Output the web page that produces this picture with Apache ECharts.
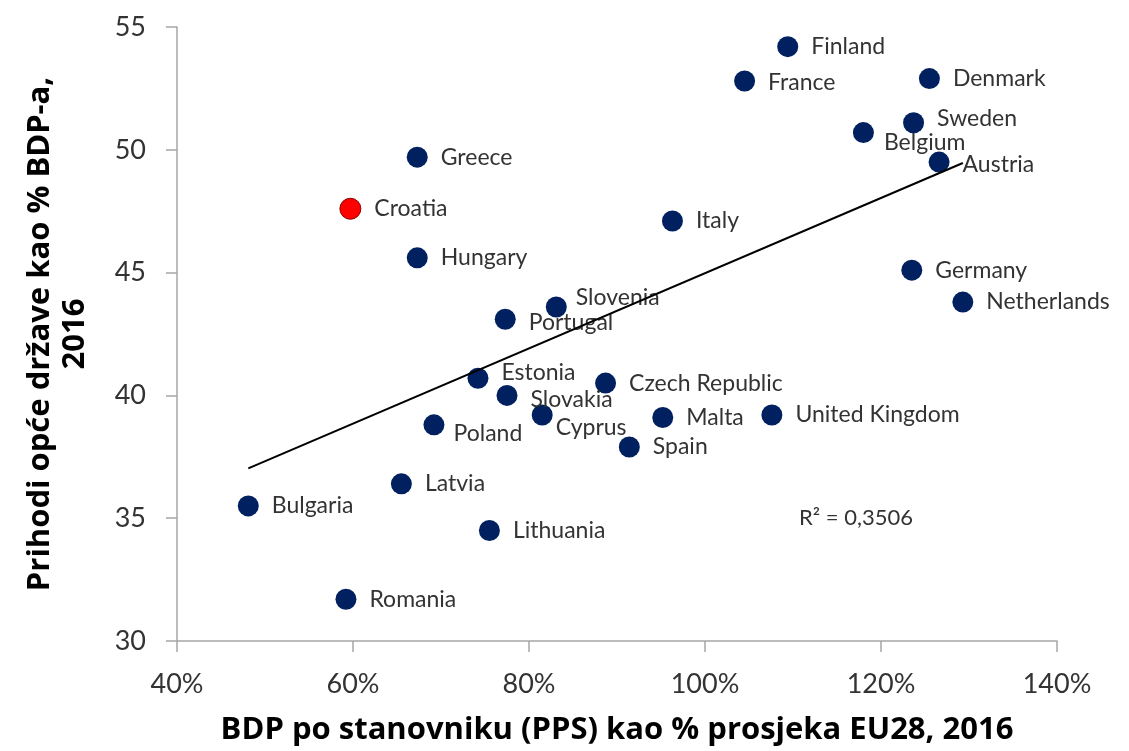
<!DOCTYPE html>
<html>
<head>
<meta charset="utf-8">
<title>Prihodi opće države i BDP po stanovniku</title>
<script src="https://cdn.jsdelivr.net/npm/echarts@6/dist/echarts.min.js"></script>
<style>
  html, body { margin: 0; padding: 0; background: #fff; }
  #chart { width: 1129px; height: 751px; }
</style>
</head>
<body>
<div id="chart"></div>
<script>
// podaci s grafikona
const countries = ['Finland', 'France', 'Denmark', 'Sweden', 'Belgium', 'Austria', 'Greece', 'Croatia',
  'Italy', 'Hungary', 'Germany', 'Netherlands', 'Slovenia', 'Portugal', 'Estonia', 'Czech Republic',
  'Slovakia', 'Cyprus', 'Malta', 'United Kingdom', 'Poland', 'Spain', 'Latvia', 'Bulgaria', 'Lithuania', 'Romania']
const gdpPerCapita = [109.4, 104.5, 125.5, 123.7, 118.0, 126.6, 67.3, 59.7,
  96.3, 67.3, 123.5, 129.3, 83.1, 77.3, 74.2, 88.7,
  77.5, 81.5, 95.2, 107.6, 69.2, 91.4, 65.5, 48.1, 75.5, 59.2]
const revenue = [54.2, 52.8, 52.9, 51.1, 50.7, 49.5, 49.7, 47.6,
  47.1, 45.6, 45.1, 43.8, 43.6, 43.1, 40.7, 40.5,
  40.0, 39.2, 39.1, 39.2, 38.8, 37.9, 36.4, 35.5, 34.5, 31.7]
const xTicks = [40, 60, 80, 100, 120, 140]
const yTicks = [30, 35, 40, 45, 50, 55]
const rSquaredText = 'R² = 0,3506'

const highlight = 'Croatia'
const navy = '#002060'
const textColor = '#333333'
const labelFont = 'Lato, "Open Sans", sans-serif'
const titleFont = '"Open Sans", "Noto Sans", sans-serif'

// pomaci oznaka koje nisu tocno desno od tocke
const labelOffsets = {
  'Sweden': [0, -4],
  'Belgium': [-3, 10],
  'Austria': [0, 2],
  'Slovenia': [-4, -9],
  'Portugal': [0, 3],
  'Estonia': [0, -6],
  'Slovakia': [0, 4],
  'Cyprus': [-10, 13],
  'Poland': [-4, 9],
  'France': [0, 2]
}

// linearni trend (najmanji kvadrati)
const n = gdpPerCapita.length
const meanX = gdpPerCapita.reduce((a, b) => a + b, 0) / n
const meanY = revenue.reduce((a, b) => a + b, 0) / n
let sxy = 0, sxx = 0
for (let i = 0; i < n; i++) {
  sxy += (gdpPerCapita[i] - meanX) * (revenue[i] - meanY)
  sxx += (gdpPerCapita[i] - meanX) ** 2
}
const slope = sxy / sxx
const intercept = meanY - slope * meanX
const xMin = Math.min(...gdpPerCapita)
const xMax = Math.max(...gdpPerCapita)
const trendData = [[xMin, intercept + slope * xMin], [xMax, intercept + slope * xMax]]

const points = countries.map((name, i) => {
  const item = { name: name, value: [gdpPerCapita[i], revenue[i]] }
  if (name === highlight) {
    item.itemStyle = { color: '#ff0000', borderColor: '#8b0000', borderWidth: 1 }
  }
  return item
})

const chart = echarts.init(document.getElementById('chart'), null, { renderer: 'canvas' })

const axisLineStyle = { color: '#a6a6a6', width: 1.5 }

chart.setOption({
  animation: false,
  backgroundColor: '#fff',
  textStyle: { fontFamily: labelFont },
  grid: {
    left: 177,
    right: 72,
    top: 27,
    bottom: 110,
    containLabel: false,
    outerBoundsMode: 'none'
  },
  xAxis: {
    type: 'value',
    min: xTicks[0],
    max: xTicks[xTicks.length - 1],
    interval: xTicks[1] - xTicks[0],
    name: 'BDP po stanovniku (PPS) kao % prosjeka EU28, 2016',
    nameLocation: 'middle',
    nameGap: 74,
    nameTextStyle: { fontSize: 31, fontWeight: 'bold', color: '#000', fontFamily: titleFont },
    axisLine: { lineStyle: axisLineStyle },
    axisTick: { show: true, length: 11, lineStyle: axisLineStyle },
    axisLabel: {
      formatter: '{value}%',
      fontSize: 27,
      color: textColor,
      margin: 30
    },
    splitLine: { show: false }
  },
  yAxis: {
    type: 'value',
    min: yTicks[0],
    max: yTicks[yTicks.length - 1],
    interval: yTicks[1] - yTicks[0],
    name: 'Prihodi opće države kao % BDP-a,\n2016',
    nameLocation: 'middle',
    nameRotate: 90,
    nameGap: 84,
    nameTextStyle: { fontSize: 31, fontWeight: 'bold', color: '#000', lineHeight: 35, fontFamily: titleFont },
    axisLine: { show: true, lineStyle: axisLineStyle },
    axisTick: { show: true, length: 11, lineStyle: axisLineStyle },
    axisLabel: { fontSize: 27, color: textColor, margin: 31 },
    splitLine: { show: false }
  },
  graphic: [{
    type: 'text',
    left: 799,
    top: 507,
    style: { text: rSquaredText, fontSize: 22, fill: textColor, fontFamily: labelFont }
  }],
  series: [
    {
      name: 'Trend',
      type: 'line',
      data: trendData,
      symbol: 'none',
      silent: true,
      z: 3,
      lineStyle: { color: '#000', width: 2 }
    },
    {
      name: 'Countries',
      type: 'scatter',
      data: points,
      symbolSize: 21,
      z: 2,
      itemStyle: { color: navy, opacity: 1 },
      label: {
        show: true,
        position: 'right',
        distance: 13,
        formatter: '{b}',
        fontSize: 23,
        color: textColor,
        fontFamily: labelFont
      },
      // pomak pojedinih oznaka
      labelLayout: function (params) {
        const off = labelOffsets[countries[params.dataIndex]]
        if (!off) return { hideOverlap: false }
        return { dx: off[0], dy: off[1], hideOverlap: false }
      }
    }
  ]
})
</script>
</body>
</html>
